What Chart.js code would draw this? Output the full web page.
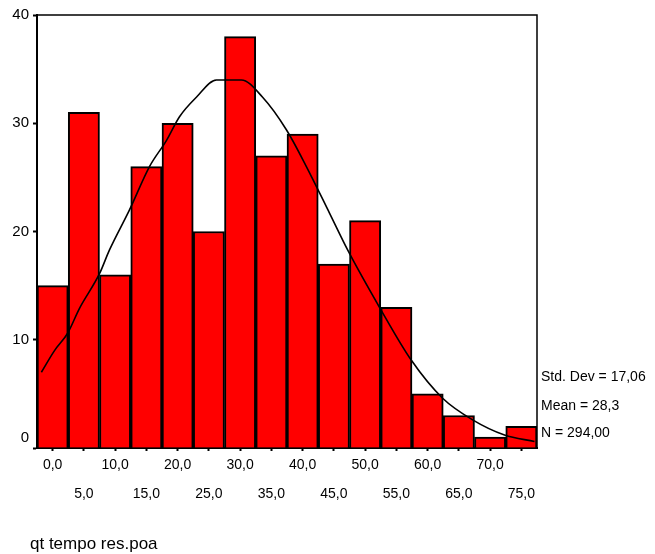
<!DOCTYPE html>
<html>
<head>
<meta charset="utf-8">
<script src="https://cdn.jsdelivr.net/npm/chart.js@4"></script>
<style>
  body { margin: 0; background: #fff; }
  canvas { display: block; }
</style>
</head>
<body>
<canvas id="hist" width="655" height="554"></canvas>
<script>
// bin labels (midpoints) and counts
const binLabels = ["0,0", "5,0", "10,0", "15,0", "20,0", "25,0", "30,0", "35,0",
  "40,0", "45,0", "50,0", "55,0", "60,0", "65,0", "70,0", "75,0"];
const counts = [15, 31, 16, 26, 30, 20, 38, 27, 29, 17, 21, 13, 5, 3, 1, 2];

// normal curve, points
const curveX = [-1.8, 0.3, 2.4, 4.3, 7.5, 9.1, 12.3, 15.5, 18.2, 20.3, 23.0, 26.2,
  30.2, 33.6, 37.4, 40.6, 44.3, 47.2, 52.3, 57.4, 62.4, 67.2, 72.3, 77.1];
const curveY = [7.0, 9.0, 10.6, 12.9, 16.1, 18.3, 22.0, 26.0, 28.4, 30.6, 32.4, 34.0,
  34.0, 32.4, 29.4, 26.0, 21.7, 18.3, 13.0, 8.1, 4.6, 2.6, 1.2, 0.6];

const statLines = ["Std. Dev = 17,06", "Mean = 28,3", "N = 294,00"];
const axisTitle = "qt tempo res.poa";

const FONT = "'Liberation Sans', Arial, sans-serif";

// frame + side stats + variable name
const extras = {
  id: "extras",
  afterDraw(chart) {
    const ctx = chart.ctx;
    const a = chart.chartArea;
    ctx.save();
    ctx.strokeStyle = "#000";
    ctx.lineWidth = 1.5;
    ctx.beginPath();
    ctx.moveTo(a.left, a.top);
    ctx.lineTo(a.right, a.top);
    ctx.lineTo(a.right, a.bottom);
    ctx.stroke();

    ctx.fillStyle = "#000";
    ctx.font = "14px " + FONT;
    ctx.textBaseline = "middle";
    ctx.textAlign = "left";
    const ys = [377, 406, 433];
    statLines.forEach((t, i) => ctx.fillText(t, a.right + 4, ys[i]));

    ctx.font = "17px " + FONT;
    ctx.fillText(axisTitle, 30, 544);
    ctx.restore();
  }
};

new Chart(document.getElementById("hist"), {
  data: {
    labels: binLabels,
    datasets: [
      {
        type: "line",
        data: curveX.map((x, i) => ({ x: x, y: curveY[i] })),
        xAxisID: "xc",
        yAxisID: "y",
        borderColor: "#000",
        borderWidth: 1.6,
        pointRadius: 0,
        cubicInterpolationMode: "monotone",
        order: 0
      },
      {
        type: "bar",
        data: counts,
        xAxisID: "x",
        yAxisID: "y",
        backgroundColor: "#ff0000",
        borderColor: "#000",
        borderWidth: 2,
        barPercentage: 1,
        categoryPercentage: 1,
        grouped: false,
        order: 1
      }
    ]
  },
  options: {
    responsive: false,
    animation: false,
    layout: { padding: { top: 15, right: 118, left: 0, bottom: 0 } },
    plugins: { legend: { display: false }, tooltip: { enabled: false } },
    scales: {
      x: {
        type: "category",
        offset: true,
        grid: { display: true, drawOnChartArea: false, offset: false, tickLength: 3, tickColor: "#000", tickWidth: 2 },
        border: { display: true, color: "#000", width: 2 },
        ticks: {
          autoSkip: false,
          maxRotation: 0,
          padding: 0,
          color: "#000",
          font: { family: FONT, size: 14, lineHeight: "29px" },
          callback: function (v, i) {
            const t = binLabels[i];
            return i % 2 === 0 ? [t, ""] : ["", t];
          }
        },
        afterFit(scale) { scale.height = 106; }
      },
      xc: {
        type: "linear",
        display: false,
        min: -2.5,
        max: 77.5
      },
      y: {
        min: 0,
        max: 40,
        grid: { display: true, drawOnChartArea: false, tickLength: 4, tickColor: "#000", tickWidth: 2 },
        border: { display: true, color: "#000", width: 2 },
        ticks: {
          stepSize: 10,
          padding: 4,
          color: "#000",
          font: { family: FONT, size: 15, lineHeight: "20px" },
          callback: function (v) { return v === 0 ? ["0", ""] : String(v); }
        },
        afterFit(scale) { scale.width = 37; }
      }
    }
  },
  plugins: [extras]
});
</script>
</body>
</html>
